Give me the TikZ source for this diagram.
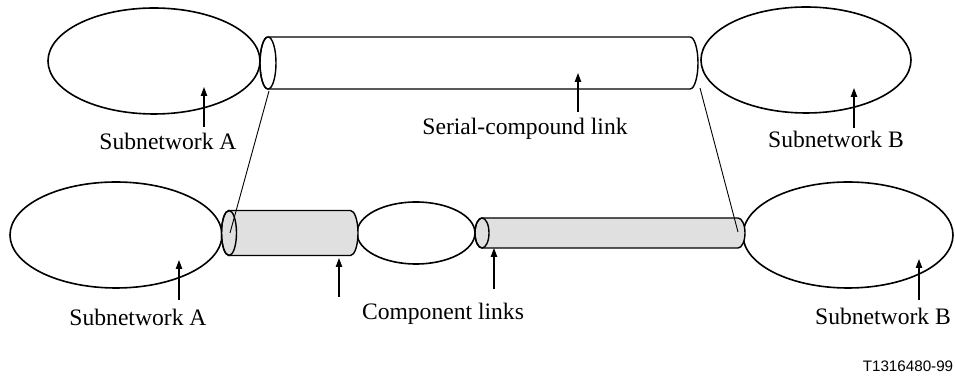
\documentclass[tikz,border=0pt]{standalone}
\usepackage{fontspec}
\setmainfont{Liberation Serif}
\newfontfamily\tagfont{Liberation Sans}
\usetikzlibrary{shapes.geometric,arrows.meta}
\begin{document}
\begin{tikzpicture}[x=0.5pt,y=0.5pt,
  net/.style={ellipse,draw,line width=0.8pt,inner sep=0pt},
  tube/.style={draw,line width=0.7pt},
  arr/.style={line width=0.6pt,-{Triangle[length=4.5pt,width=3.2pt]}},
  lbl/.style={anchor=base,inner sep=0pt,font=\fontsize{11.8}{14}\selectfont},
  cross/.style={line width=0.45pt}]
\useasboundingbox (0,0) rectangle (955,385);
% subnetworks
\node[net,minimum width=106pt,minimum height=53pt] (tA) at (154,324) {};
\node[net,minimum width=105pt,minimum height=53pt] (tB) at (806,325) {};
\node[net,minimum width=106pt,minimum height=53pt] (bA) at (116,150) {};
\node[net,minimum width=59pt,minimum height=31pt] (bM) at (416,152) {};
\node[net,minimum width=105pt,minimum height=53pt] (bB) at (848,150) {};
% top serial-compound link
\filldraw[tube,fill=white] (268,348) -- (690,348) arc[start angle=90,end angle=-90,x radius=4pt,y radius=13pt] -- (268,296) arc[start angle=270,end angle=90,x radius=4pt,y radius=13pt] -- cycle;
\draw[tube] (268,322) ellipse[x radius=4pt,y radius=13pt];
% component link 1
\filldraw[tube,fill=black!12] (229,174.5) -- (350.5,174.5) arc[start angle=90,end angle=-90,x radius=3.75pt,y radius=11.25pt] -- (229,129.5) arc[start angle=270,end angle=90,x radius=3.75pt,y radius=11.25pt] -- cycle;
\draw[tube] (229,152) ellipse[x radius=3.75pt,y radius=11.25pt];
% component link 2
\filldraw[tube,fill=black!12] (482,167) -- (738,167) arc[start angle=90,end angle=-90,x radius=3.5pt,y radius=7.5pt] -- (482,137) arc[start angle=270,end angle=90,x radius=3.5pt,y radius=7.5pt] -- cycle;
\draw[tube] (482,152) ellipse[x radius=3.5pt,y radius=7.5pt];
% cross lines
\coordinate (sL) at (269,294);
\coordinate (sR) at (700,297);
\coordinate (cL) at (230,152);
\coordinate (cR) at (738,153);
\draw[cross] (sL) -- (cL);
\draw[cross] (sR) -- (cR);
% labels
\node[lbl] (ltA) at (168,235) {Subnetwork A};
\node[lbl] (lS) at (525,250) {Serial-compound link};
\node[lbl] (ltB) at (836,237) {Subnetwork B};
\node[lbl] (lbA) at (138,59) {Subnetwork A};
\node[lbl] (lC) at (443,65) {Component links};
\node[lbl] (lbB) at (883,60) {Subnetwork B};
\node[anchor=base,inner sep=0pt,font=\tagfont\fontsize{7.6}{9}\selectfont] (tag) at (908,13) {T1316480-99};
% arrows
\draw[arr] (204,258) -- (204,298);
\draw[arr] (578,273) -- (578,312);
\draw[arr] (854,257) -- (854,297);
\draw[arr] (179,85) -- (179,125);
\draw[arr] (339,88) -- (339,127);
\draw[arr] (494,96) -- (494,137);
\draw[arr] (919,85) -- (919,126);
\end{tikzpicture}
\end{document}
